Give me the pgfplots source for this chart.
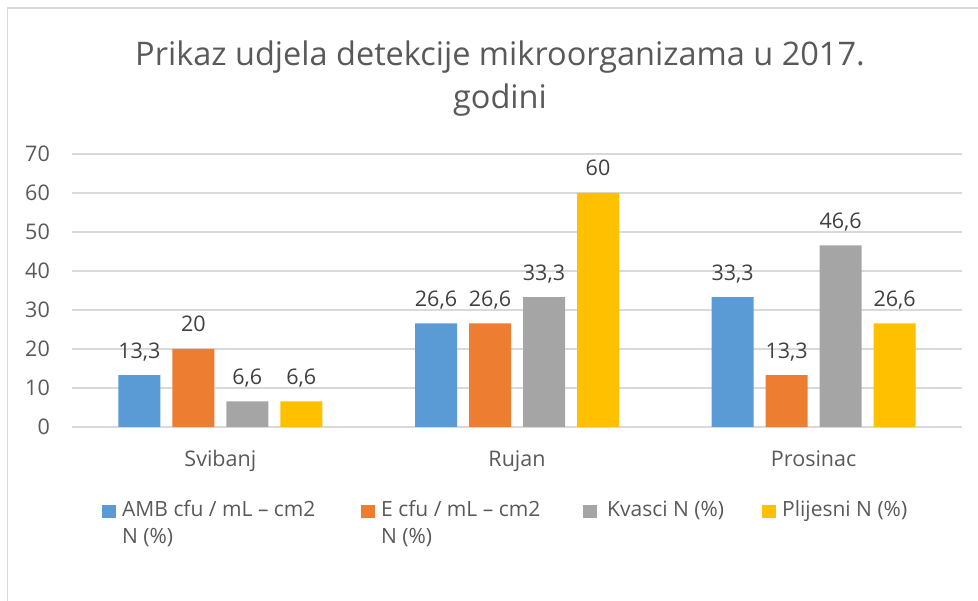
\documentclass[border=0pt]{standalone}
\usepackage{fontspec}
\setmainfont{Open Sans}
\usepackage{pgfplots}
\pgfplotsset{compat=1.18}

\definecolor{cBlue}{HTML}{5B9BD5}
\definecolor{cOrange}{HTML}{ED7D31}
\definecolor{cGray}{HTML}{A5A5A5}
\definecolor{cYellow}{HTML}{FFC000}
\definecolor{gridgray}{HTML}{D9D9D9}
\definecolor{txt}{HTML}{595959}
\definecolor{lbl}{HTML}{404040}

\begin{document}
\begin{tikzpicture}
\path[use as bounding box] (0pt,0pt) rectangle (978pt,-601pt);
\draw[gridgray, line width=1.5pt] (7.5pt,-601pt) -- (7.5pt,-8pt) -- (978pt,-8pt);

% two-line chart title
\node[anchor=base, text=txt, font=\fontsize{32.5pt}{38pt}\selectfont, inner sep=0pt]
  at (500pt,-66pt) {Prikaz udjela detekcije mikroorganizama u 2017.};
\node[anchor=base, text=txt, font=\fontsize{32.5pt}{38pt}\selectfont, inner sep=0pt]
  at (500pt,-109pt) {godini};

\begin{axis}[
    at={(72pt,-427pt)}, anchor=south west,
    scale only axis,
    width=890pt, height=273pt,
    ybar=12pt, bar width=42pt,
    xmin=-0.5, xmax=2.5,
    ymin=0, ymax=70,
    xtick={0,1,2},
    xticklabels={Svibanj, Rujan, Prosinac},
    ytick={0,10,...,70},
    major tick length=0pt,
    axis x line*=bottom, axis y line*=left,
    x axis line style={gridgray, line width=1.2pt},
    y axis line style={draw=none},
    ymajorgrids=true,
    grid style={gridgray, line width=1.2pt},
    /pgf/number format/assume math mode=true,
    /pgf/number format/use comma,
    tick label style={text=txt},
    yticklabel style={font=\fontsize{21.5pt}{25pt}\selectfont, anchor=east, inner sep=0pt, xshift=-22pt},
    xticklabel style={font=\fontsize{21.5pt}{25pt}\selectfont, anchor=base, inner sep=0pt, yshift=-40pt},
    nodes near coords,
    every node near coord/.append style={font=\fontsize{21.5pt}{25pt}\selectfont, text=lbl, anchor=base, inner sep=0pt, yshift=17pt},
    legend style={
        at={(axis description cs:0.0337,-0.27)}, anchor=north west,
        draw=none, fill=none, inner sep=0pt,
        font=\fontsize{21pt}{27pt}\selectfont, text=txt,
        legend columns=4,
        nodes={inner sep=0pt, anchor=base west},
        /tikz/every odd column/.append style={column sep=6pt},
        /tikz/every even column/.append style={column sep=0pt},
    },
    legend image code/.code={\fill[#1] (0pt,-1pt) rectangle (14pt,12pt);},
]
\addplot[fill=cBlue, draw=none] coordinates {(0,13.3) (1,26.6) (2,33.3)};
\addplot[fill=cOrange, draw=none] coordinates {(0,20) (1,26.6) (2,13.3)};
\addplot[fill=cGray, draw=none] coordinates {(0,6.6) (1,33.3) (2,46.6)};
\addplot[fill=cYellow, draw=none] coordinates {(0,6.6) (1,60) (2,26.6)};
\legend{
  \parbox[t]{239pt}{AMB cfu / mL -- cm2\\N (\%)},
  \parbox[t]{202pt}{E cfu / mL -- cm2\\N (\%)},
  \parbox[t]{159pt}{\hspace{4pt}Kvasci N (\%)},
  Plijesni N (\%)}
\end{axis}
\end{tikzpicture}
\end{document}
